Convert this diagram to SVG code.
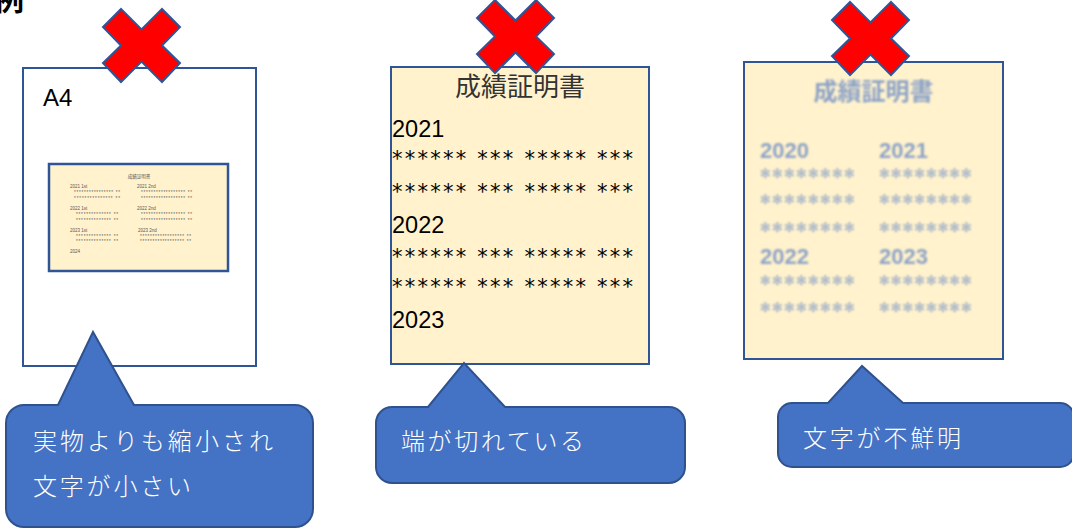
<svg xmlns="http://www.w3.org/2000/svg" xmlns:xlink="http://www.w3.org/1999/xlink" width="1072" height="528" viewBox="0 0 1072 528">
<style>
.page{fill:#ffffff;stroke:#2F5597;stroke-width:2}
.doc{fill:#FFF2CC;stroke:#2F5597;stroke-width:2}
.cross{fill:#FF0000;stroke:#2F5597;stroke-width:2;stroke-linejoin:miter}
.call{fill:#4472C4;stroke:#2F528F;stroke-width:2}
.ctext{fill:#FFFFFF;font-family:"Noto Sans CJK JP","Noto Sans",sans-serif;font-size:24px;font-weight:300}
.lat{font-family:"Liberation Sans","Noto Sans CJK JP",sans-serif}
.jp{font-family:"Noto Sans CJK JP","Noto Sans",sans-serif}
.tiny{font-family:"Liberation Sans","Noto Sans CJK JP",sans-serif;font-size:4.5px;fill:#595959}
.mid{font-family:"Liberation Sans","Noto Sans CJK JP",sans-serif;font-size:23.5px;fill:#000000}
.ast{font-family:"DejaVu Sans","Liberation Sans",sans-serif;font-size:21px;fill:#000000}
.blur{font-family:"Liberation Sans","Noto Sans CJK JP",sans-serif;font-weight:bold;fill:#8EA3C7}
.bast{font-family:"DejaVu Sans","Liberation Sans",sans-serif;font-weight:bold;font-size:13px;fill:#8EA3C7}
</style>
<defs>
<polygon id="xshape" points="18,0 38.5,20.5 59,0 77,18 59,36.5 77,54 59,73 38.5,52.5 18,73 0,54 18,36.5 0,18"/>
<filter id="soft" x="-10%" y="-30%" width="120%" height="160%">
<feGaussianBlur stdDeviation="0.8"/>
</filter>
</defs>

<text x="-6" y="10" class="jp" font-size="30" font-weight="bold" fill="#000000">例</text>

<g id="page-a4">
<rect class="page" x="23" y="68" width="233" height="298"/>
<text x="43" y="106" class="lat" font-size="24" fill="#000000">A4</text>
<g id="mini-doc">
<rect x="49" y="164" width="179" height="107" fill="#FFF2CC" stroke="#2F5597" stroke-width="2.5"/>
<text x="139" y="178" class="tiny" text-anchor="middle">成績証明書</text>
<text x="70" y="188" class="tiny">2021 1st</text>
<text x="137" y="188" class="tiny">2021 2nd</text>
<text x="74" y="194" class="tiny" textLength="46" lengthAdjust="spacing">**************** **</text>
<text x="74" y="200" class="tiny" textLength="46" lengthAdjust="spacing">*************** **</text>
<text x="141" y="194" class="tiny" textLength="51" lengthAdjust="spacing">****************** **</text>
<text x="141" y="200" class="tiny" textLength="51" lengthAdjust="spacing">****************** **</text>
<text x="70" y="210" class="tiny">2022 1st</text>
<text x="137" y="210" class="tiny">2022 2nd</text>
<text x="76" y="216" class="tiny" textLength="42" lengthAdjust="spacing">************** **</text>
<text x="76" y="222" class="tiny" textLength="42" lengthAdjust="spacing">************** **</text>
<text x="141" y="216" class="tiny" textLength="51" lengthAdjust="spacing">****************** **</text>
<text x="141" y="222" class="tiny" textLength="51" lengthAdjust="spacing">****************** **</text>
<text x="70" y="232" class="tiny">2023  1st</text>
<text x="138" y="232" class="tiny">2023 2nd</text>
<text x="76" y="238" class="tiny" textLength="42" lengthAdjust="spacing">************** **</text>
<text x="76" y="243" class="tiny" textLength="42" lengthAdjust="spacing">************** **</text>
<text x="140" y="238" class="tiny" textLength="51" lengthAdjust="spacing">****************** **</text>
<text x="140" y="243" class="tiny" textLength="51" lengthAdjust="spacing">****************** **</text>
<text x="70" y="253" class="tiny">2024</text>
</g>
</g>

<g id="doc-cut">
<rect class="doc" x="391" y="67" width="258" height="297"/>
<text x="520" y="96" class="jp" font-size="26" fill="#333333" text-anchor="middle">成績証明書</text>
<text x="392" y="137" class="mid">2021</text>
<text x="392" y="166" class="ast" textLength="241" lengthAdjust="spacing">****** *** ***** ***</text>
<text x="392" y="199" class="ast" textLength="241" lengthAdjust="spacing">****** *** ***** ***</text>
<text x="392" y="233" class="mid">2022</text>
<text x="392" y="264" class="ast" textLength="241" lengthAdjust="spacing">****** *** ***** ***</text>
<text x="392" y="294" class="ast" textLength="241" lengthAdjust="spacing">****** *** ***** ***</text>
<text x="392" y="328" class="mid">2023</text>
</g>

<g id="doc-blurry">
<rect class="doc" x="744" y="62" width="259" height="297"/>
<g filter="url(#soft)">
<text x="873.5" y="100" class="blur" font-size="24" text-anchor="middle">成績証明書</text>
<text x="760" y="158" class="blur" font-size="22">2020</text>
<text x="879" y="158" class="blur" font-size="22">2021</text>
<text x="760" y="178" class="bast" textLength="95" lengthAdjust="spacing">✻✻✻✻✻✻✻✻</text>
<text x="879" y="178" class="bast" textLength="93" lengthAdjust="spacing">✻✻✻✻✻✻✻✻</text>
<text x="760" y="204" class="bast" textLength="95" lengthAdjust="spacing">✻✻✻✻✻✻✻✻</text>
<text x="879" y="204" class="bast" textLength="93" lengthAdjust="spacing">✻✻✻✻✻✻✻✻</text>
<text x="760" y="232" class="bast" textLength="95" lengthAdjust="spacing">✻✻✻✻✻✻✻✻</text>
<text x="879" y="232" class="bast" textLength="93" lengthAdjust="spacing">✻✻✻✻✻✻✻✻</text>
<text x="760" y="264" class="blur" font-size="22">2022</text>
<text x="879" y="264" class="blur" font-size="22">2023</text>
<text x="760" y="285" class="bast" textLength="95" lengthAdjust="spacing">✻✻✻✻✻✻✻✻</text>
<text x="879" y="285" class="bast" textLength="93" lengthAdjust="spacing">✻✻✻✻✻✻✻✻</text>
<text x="760" y="312" class="bast" textLength="95" lengthAdjust="spacing">✻✻✻✻✻✻✻✻</text>
<text x="879" y="312" class="bast" textLength="93" lengthAdjust="spacing">✻✻✻✻✻✻✻✻</text>
</g>
</g>

<g id="crosses">
<use xlink:href="#xshape" href="#xshape" class="cross" x="103" y="9"/>
<use xlink:href="#xshape" href="#xshape" class="cross" x="477" y="0"/>
<use xlink:href="#xshape" href="#xshape" class="cross" x="832" y="2"/>
</g>

<g id="callout-small">
<path class="call" d="M24,405 L58,405 L93,332 L134,405 L295,405 A18,18 0 0 1 313,423 L313,509 A18,18 0 0 1 295,527 L24,527 A18,18 0 0 1 6,509 L6,423 A18,18 0 0 1 24,405 Z"/>
<text x="33" y="450" class="ctext" textLength="240" lengthAdjust="spacing">実物よりも縮小され</text>
<text x="33" y="495" class="ctext" textLength="158" lengthAdjust="spacing">文字が小さい</text>
</g>

<g id="callout-cut">
<path class="call" d="M392,407 L428,407 L464,363 L505,407 L669,407 A16,16 0 0 1 685,423 L685,467 A16,16 0 0 1 669,483 L392,483 A16,16 0 0 1 376,467 L376,423 A16,16 0 0 1 392,407 Z"/>
<text x="401" y="450" class="ctext" textLength="183" lengthAdjust="spacing">端が切れている</text>
</g>

<g id="callout-blurry">
<path class="call" d="M792,403 L828,403 L862,366 L903,403 L1060,403 A14,14 0 0 1 1074,417 L1074,453 A14,14 0 0 1 1060,467 L792,467 A14,14 0 0 1 778,453 L778,417 A14,14 0 0 1 792,403 Z"/>
<text x="803" y="447" class="ctext" textLength="158" lengthAdjust="spacing">文字が不鮮明</text>
</g>
</svg>
